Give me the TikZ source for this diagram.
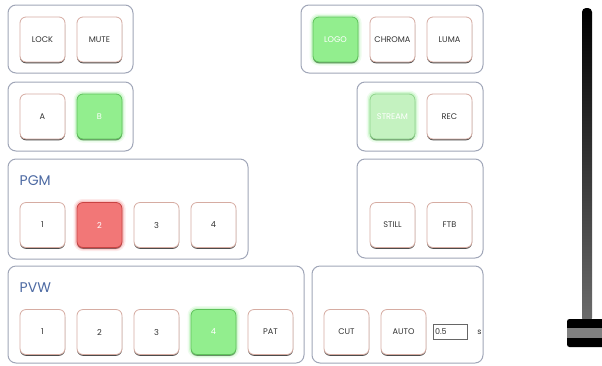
\documentclass[tikz,border=0pt]{standalone}
\usepackage{fontspec}
\setmainfont{Poppins}
\usetikzlibrary{shadows}
\pgfdeclarelayer{panellayer}
\pgfdeclarelayer{buttonlayer}
\pgfsetlayers{panellayer,main,buttonlayer}
\definecolor{panelgray}{HTML}{A0A6B8}
\definecolor{rimbrown}{HTML}{D6ACA2}
\definecolor{labelgray}{HTML}{333333}
\definecolor{titleblue}{HTML}{4D6AA3}
\definecolor{ongreen}{HTML}{92EE8E}
\definecolor{ongreenrim}{HTML}{5DC25A}
\definecolor{softgreen}{HTML}{C4F2C0}
\definecolor{onred}{HTML}{F27777}
\definecolor{onredrim}{HTML}{C94343}
\tikzstyle{panel}=[rectangle,rounded corners=8pt,draw=panelgray,line width=1pt,fill=white,inner sep=0pt]
\tikzstyle{btn}=[rectangle,rounded corners=6pt,draw=rimbrown,line width=0.8pt,fill=white,minimum width=45pt,minimum height=45pt,inner sep=0pt,font=\fontsize{8.2}{9}\selectfont,text=labelgray,drop shadow={shadow xshift=0pt,shadow yshift=-1.3pt,fill=black!70,opacity=1}]
\tikzstyle{btnon}=[btn,fill=ongreen,draw=ongreenrim,text=white,preaction={draw=ongreen,line width=7pt,opacity=0.15},preaction={draw=ongreen,line width=4pt,opacity=0.3}]
\tikzstyle{btnsoft}=[btn,fill=softgreen,draw=ongreenrim!70,text=white,preaction={draw=ongreen,line width=7pt,opacity=0.15},preaction={draw=ongreen,line width=4pt,opacity=0.3}]
\tikzstyle{btnpgm}=[btn,fill=onred,draw=onredrim,text=white,preaction={draw=onred,line width=7pt,opacity=0.15},preaction={draw=onred,line width=4pt,opacity=0.3}]
\tikzstyle{title}=[inner sep=0pt,font=\fontsize{14}{16}\selectfont,text=titleblue]
\tikzstyle{field}=[rectangle,draw=black!60,line width=0.5pt,fill=white,minimum width=34pt,minimum height=15pt,text width=30pt,inner xsep=2pt,inner ysep=0pt,align=left,font=\fontsize{8}{9}\selectfont,text=labelgray]

\begin{document}
\begin{tikzpicture}[x=1pt,y=-1pt]
					\useasboundingbox (0,0) rectangle (602,365);
					\begin{pgfonlayer}{panellayer}
						\node [style=panel,minimum width=125pt,minimum height=68pt] (keys) at (70.5,39) {};
						\node [style=panel,minimum width=125pt,minimum height=69pt] (bus) at (70.5,116.5) {};
						\node [style=panel,minimum width=240pt,minimum height=100pt] (pgm) at (128,209) {};
						\node [style=panel,minimum width=296pt,minimum height=97pt] (pvw) at (156,314.5) {};
						\node [style=panel,minimum width=182pt,minimum height=68pt] (dsk) at (392,39) {};
						\node [style=panel,minimum width=126pt,minimum height=69pt] (out) at (420,116.5) {};
						\node [style=panel,minimum width=126pt,minimum height=99pt] (fx) at (420,208.5) {};
						\node [style=panel,minimum width=171pt,minimum height=97pt] (trans) at (397.5,314.5) {};
					\end{pgfonlayer}
					\begin{pgfonlayer}{buttonlayer}
						\node [style=btn] (lock) at (42.5,39.5) {LOCK};
						\node [style=btn] (mute) at (99.5,39.5) {MUTE};
						\node [style=btn] (a) at (42.5,116.5) {A};
						\node [style=btnon] (b) at (99.5,116.5) {B};
						\node [style=title,anchor=base west] (pgmtitle) at (19.5,185) {PGM};
						\node [style=btn] (pgm1) at (42.5,225) {1};
						\node [style=btnpgm] (pgm2) at (99.5,225) {2};
						\node [style=btn] (pgm3) at (156.5,225) {3};
						\node [style=btn] (pgm4) at (213.5,225) {4};
						\node [style=title,anchor=base west] (pvwtitle) at (19.5,292) {PVW};
						\node [style=btn] (pvw1) at (42.5,332) {1};
						\node [style=btn] (pvw2) at (99.5,332) {2};
						\node [style=btn] (pvw3) at (156.5,332) {3};
						\node [style=btnon] (pvw4) at (213.5,332) {4};
						\node [style=btn] (pat) at (270.5,332) {PAT};
						\node [style=btnon] (logo) at (335.5,39.5) {LOGO};
						\node [style=btn] (chroma) at (392.5,39.5) {CHROMA};
						\node [style=btn] (luma) at (449.5,39.5) {LUMA};
						\node [style=btnsoft] (stream) at (392.5,116.5) {STREAM};
						\node [style=btn] (rec) at (449.5,116.5) {REC};
						\node [style=btn] (still) at (392.5,225) {STILL};
						\node [style=btn] (ftb) at (449.5,225) {FTB};
						\node [style=btn] (cut) at (346.5,332) {CUT};
						\node [style=btn] (auto) at (403.5,332) {AUTO};
						\node [style=field] (rate) at (450,331.5) {0.5};
						\node [font=\fontsize{8}{9}\selectfont,text=labelgray,inner sep=0pt] (unit) at (479.5,332) {s};
					\end{pgfonlayer}
					% T-bar
					\shade [top color=black,bottom color=black!58,rounded corners=4pt] (582,8) rectangle (592,322);
					\fill [black,rounded corners=2.5pt] (567,319) rectangle (612,347);
					\fill [black!50] (567,327.5) rectangle (612,337.5);
				\end{tikzpicture}
\end{document}
